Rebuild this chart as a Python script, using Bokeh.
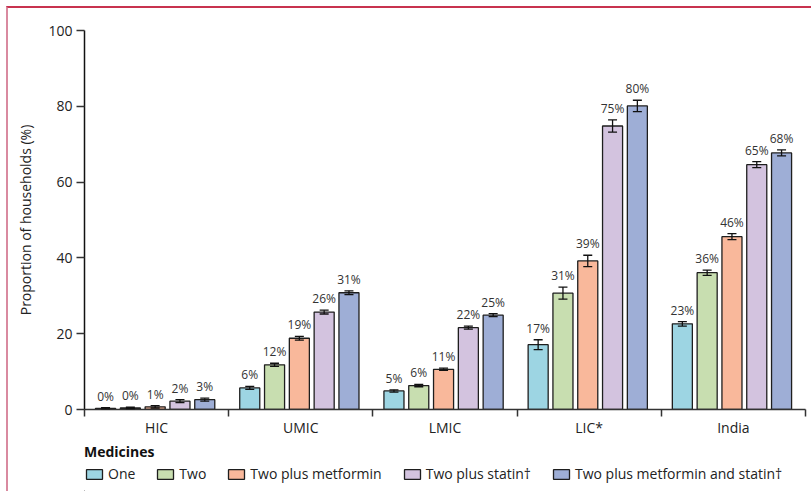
from bokeh.plotting import figure
from bokeh.layouts import column
from bokeh.models import (ColumnDataSource, Range1d, FixedTicker, Whisker, TeeHead,
                          Legend, LegendItem)
from bokeh.embed import file_html
from bokeh.resources import INLINE
from bokeh.core.properties import value

groups = ["HIC", "UMIC", "LMIC", "LIC*", "India"]
series = ["One", "Two", "Two plus metformin", "Two plus statin\u2020",
          "Two plus metformin and statin\u2020"]
colors = ["#9dd5e3", "#c8deb0", "#f9b89b", "#d3c3df", "#9eaed6"]

one = [0.3, 5.7, 4.9, 17.1, 22.6]
two = [0.4, 11.8, 6.3, 30.7, 36.1]
two_met = [0.7, 18.8, 10.6, 39.2, 45.6]
two_stat = [2.2, 25.7, 21.6, 74.8, 64.6]
two_met_stat = [2.6, 30.8, 24.9, 80.1, 67.7]

err_one = [0.2, 0.4, 0.3, 1.3, 0.6]
err_two = [0.2, 0.4, 0.3, 1.6, 0.7]
err_two_met = [0.3, 0.5, 0.3, 1.5, 0.8]
err_two_stat = [0.4, 0.5, 0.4, 1.6, 0.8]
err_two_met_stat = [0.4, 0.5, 0.4, 1.5, 0.8]

y_ticks = [0, 20, 40, 60, 80, 100]

values = [one, two, two_met, two_stat, two_met_stat]
errors = [err_one, err_two, err_two_met, err_two_stat, err_two_met_stat]

FONT = "Open Sans"

p = figure(width=803, height=431, x_range=Range1d(0, 5), y_range=Range1d(0, 100),
           output_backend="svg", toolbar_location=None,
           min_border_left=76, min_border_right=6, min_border_top=22,
           min_border_bottom=30)
p.xgrid.visible = False
p.ygrid.visible = False
p.outline_line_color = None
p.background_fill_color = "white"

ya = p.yaxis[0]
ya.ticker = FixedTicker(ticks=y_ticks, minor_ticks=[])
ya.major_tick_out = 8
ya.major_tick_in = 0
ya.minor_tick_out = 0
ya.axis_line_color = "#111111"
ya.axis_line_width = 1.5
ya.major_tick_line_color = "#333333"
ya.major_tick_line_width = 1.5
ya.major_label_text_font = FONT
ya.major_label_text_font_size = "14px"
ya.major_label_text_color = "#222222"
ya.major_label_standoff = 4
ya.axis_label = "Proportion of households (%)"
ya.axis_label_text_font = FONT
ya.axis_label_text_font_size = "14px"
ya.axis_label_text_font_style = "normal"
ya.axis_label_text_color = "#222222"
ya.axis_label_standoff = 10

xa = p.xaxis[0]
centers = [i + 0.5 for i in range(len(groups))]
xa.ticker = FixedTicker(ticks=centers, minor_ticks=list(range(len(groups) + 1)))
xa.major_label_overrides = {c: g for c, g in zip(centers, groups)}
xa.major_tick_out = 0
xa.major_tick_in = 0
xa.minor_tick_out = 7
xa.minor_tick_in = 0
xa.minor_tick_line_color = "#333333"
xa.minor_tick_line_width = 1.5
xa.axis_line_color = "#333333"
xa.axis_line_width = 1.5
xa.major_label_text_font = FONT
xa.major_label_text_font_size = "14px"
xa.major_label_text_color = "#222222"
xa.major_label_standoff = 1

# legend strip below the chart
pl = figure(width=803, height=52, x_range=Range1d(0, 1), y_range=Range1d(0, 1),
            output_backend="svg", toolbar_location=None,
            min_border_left=76, min_border_right=6, min_border_top=3,
            min_border_bottom=0)
pl.axis.visible = False
pl.xgrid.visible = False
pl.ygrid.visible = False
pl.outline_line_color = None

bar_w = 0.139
step = 0.172
items = []
for i, (name, col, vals, errs) in enumerate(zip(series, colors, values, errors)):
    xs = [c + (i - 2) * step - 0.01 for c in centers]
    src = ColumnDataSource(dict(
        x=xs, top=vals,
        upper=[v + e for v, e in zip(vals, errs)],
        lower=[v - e for v, e in zip(vals, errs)],
        label=["%d%%" % round(v) for v in vals],
    ))
    p.vbar(x="x", top="top", bottom=0, width=bar_w, source=src,
           fill_color=col, line_color="#1e1e1e", line_width=1.3)
    w = Whisker(source=src, base="x", upper="upper", lower="lower",
                line_color="#111111", line_width=1.3, level="overlay",
                upper_head=TeeHead(size=9, line_color="#111111", line_width=1.3),
                lower_head=TeeHead(size=9, line_color="#111111", line_width=1.3))
    p.add_layout(w)
    p.text(x="x", y="upper", text="label", source=src, text_align="center",
           text_baseline="bottom", y_offset=-3,
           text_font=value(FONT), text_font_size="12px", text_color="#333333")
    # off-screen stand-in so the legend strip can draw the swatch
    dummy = pl.vbar(x=[-10], top=[0], bottom=[0], width=0.1, fill_color=col,
                    line_color="#1e1e1e", line_width=1.3)
    items.append(LegendItem(label=name, renderers=[dummy], index=0))

legend = Legend(items=items, orientation="horizontal", location="top_left",
                title="Medicines", title_text_font=FONT, title_text_font_size="14px",
                title_text_font_style="bold", title_text_color="#111111",
                title_standoff=3,
                label_text_font=FONT, label_text_font_size="14px",
                label_text_color="#222222",
                glyph_width=20, glyph_height=12, label_standoff=4, spacing=20,
                padding=0, margin=0, border_line_color=None,
                background_fill_alpha=0)
pl.add_layout(legend)

layout = column(p, pl, spacing=0,
                styles={"margin-left": "6px", "margin-top": "6px",
                        "border-top": "2px solid #c8324f",
                        "border-left": "2px solid #d98aa0"})

open("out.html", "w").write(file_html(layout, INLINE))
